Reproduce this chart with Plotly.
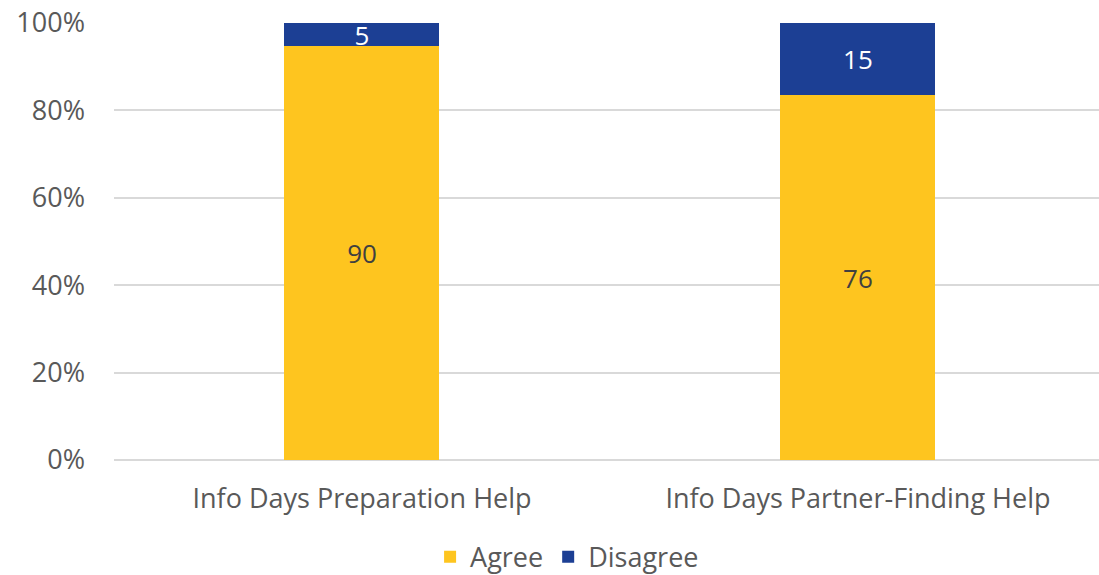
import plotly.graph_objects as go

categories = ["Info Days Preparation Help", "Info Days Partner-Finding Help"]
agree = [90, 76]
disagree = [5, 15]

FONT = "Open Sans"
GRAY = "#595959"
SIZE = 27

fig = go.Figure()
fig.add_trace(go.Bar(
    name="Agree", x=categories, y=agree,
    marker=dict(color="#FEC51F", line=dict(width=0)),
    text=[str(v) for v in agree], texttemplate="%{text}",
    textposition="inside", insidetextanchor="middle", textangle=0,
    constraintext="none",
    textfont=dict(family=FONT, size=SIZE - 1, color="#404040"),
))
fig.add_trace(go.Bar(
    name="Disagree", x=categories, y=disagree,
    marker=dict(color="#1C3F94", line=dict(width=0)),
    text=[str(v) for v in disagree], texttemplate="%{text}",
    textposition="inside", insidetextanchor="middle", textangle=0,
    constraintext="none",
    textfont=dict(family=FONT, size=SIZE - 1, color="#FFFFFF"),
))

fig.update_layout(
    barmode="stack", barnorm="percent", bargap=0.6875,
    width=1099, height=575,
    margin=dict(l=114, r=0, t=23, b=115, autoexpand=False),
    paper_bgcolor="white", plot_bgcolor="white",
    font=dict(family=FONT, size=SIZE, color=GRAY),
    legend=dict(orientation="h", x=0.516, xanchor="center", xref="container",
                y=0.031, yanchor="middle", yref="container",
                font=dict(family=FONT, size=SIZE, color=GRAY), traceorder="normal"),
    showlegend=True,
)
fig.update_xaxes(range=[-0.5, 1.486], showgrid=False, showline=False, ticks="",
                 automargin=False, ticklabelstandoff=20,
                 tickfont=dict(family=FONT, size=SIZE, color=GRAY))
fig.update_yaxes(range=[0, 100], dtick=20, ticksuffix="%", showgrid=True,
                 gridcolor="#D9D9D9", gridwidth=2, zeroline=True, zerolinecolor="#D9D9D9",
                 zerolinewidth=2, showline=False, ticks="", ticklabelstandoff=28,
                 automargin=False,
                 tickfont=dict(family=FONT, size=SIZE, color=GRAY))

fig.write_html("out.html")
